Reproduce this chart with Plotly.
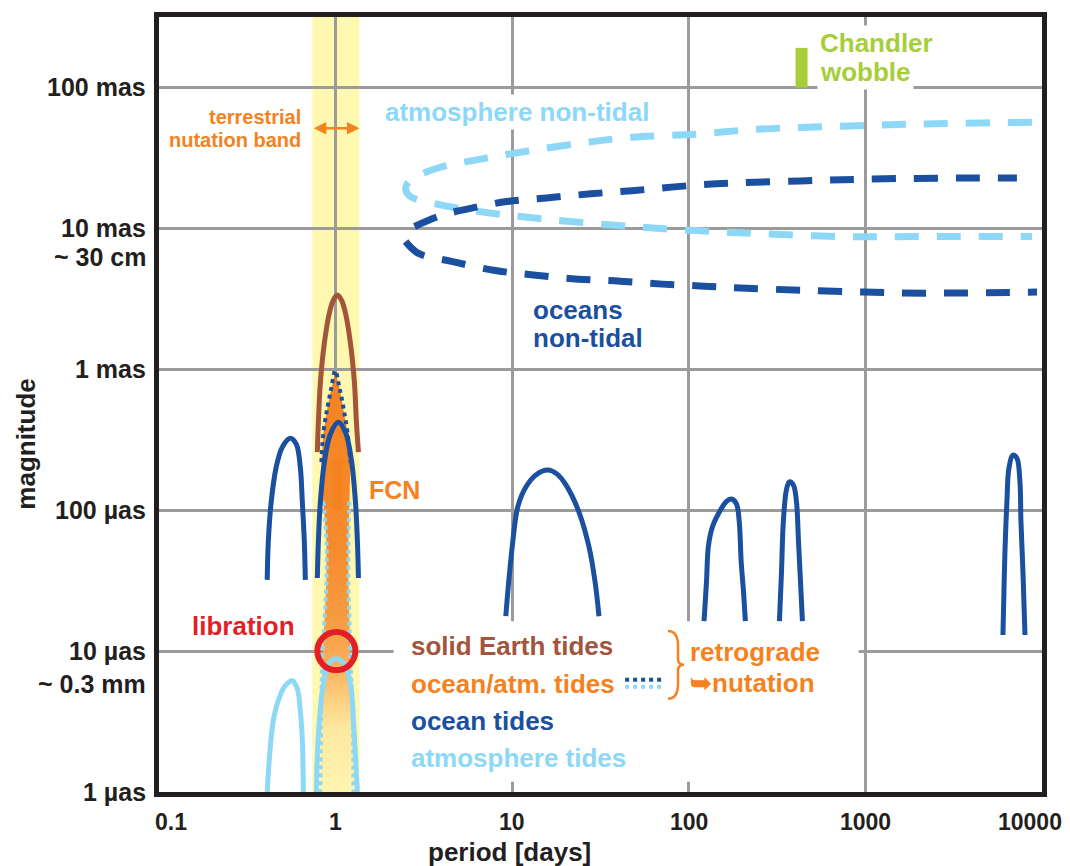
import numpy as np
import plotly.graph_objects as go

# ---------------- data (period in days, magnitude in µas) ----------------
x_tick_vals = [0.1, 1, 10, 100, 1000, 10000]
x_tick_text = ["0.1", "1", "10", "100", "1000", "10000"]
y_tick_vals = [1, 10, 100, 1e3, 1e4, 1e5]
y_tick_text = ["1 µas", "10 µas", "100 µas", "1 mas", "10 mas", "100 mas"]

band_period = [0.738, 1.365]          # terrestrial nutation band
band_arrow_mag = 51400

# solid Earth tides
solid_P = [0.788, 0.799, 0.820, 0.864, 0.922, 0.972, 1.024, 1.079, 1.137, 1.213, 1.278, 1.312, 1.347]
solid_M = [258, 420, 805, 1540, 2510, 3100, 3360, 3100, 2510, 1540, 805, 420, 258]

# ocean/atm. tides (retrograde nutation) envelope
oa_P = [0.995, 0.947, 0.899, 0.853, 0.831, 0.853, 0.887, 0.887, 0.864, 0.841, 0.831, 0.820,
        1.262, 1.245, 1.213, 1.197, 1.182, 1.182, 1.197, 1.213, 1.167, 1.107, 1.051, 0.995]
oa_M = [977, 742, 536, 357, 219, 115, 60, 31.3, 16.3, 8.53, 4.46, 1.0,
        1.0, 4.46, 8.53, 16.3, 31.3, 60, 115, 219, 357, 536, 742, 977]
oa_top_P = [0.831, 0.853, 0.899, 0.947, 0.995, 1.051, 1.107, 1.167, 1.213]
oa_top_M = [219, 357, 536, 742, 977, 742, 536, 357, 219]
oa_left_P = [0.853, 0.887, 0.887, 0.864, 0.841, 0.831, 0.820]
oa_right_P = [1.197, 1.182, 1.182, 1.197, 1.213, 1.245, 1.262]
oa_side_M = [115, 60, 31.3, 16.3, 8.53, 4.46, 1.0]

# ocean tides
ocean_tides = [
    ([0.410, 0.416, 0.432, 0.461, 0.499, 0.554, 0.599, 0.631, 0.648, 0.665, 0.674],
     [32, 60, 115, 202, 280, 324, 294, 202, 115, 60, 32]),
    ([0.788, 0.799, 0.820, 0.864, 0.934, 1.037, 1.137, 1.229, 1.295, 1.329, 1.347],
     [33, 60, 115, 219, 346, 420, 357, 227, 115, 60, 33]),
    ([9.20, 9.56, 10.08, 10.76, 11.95, 13.61, 15.92, 17.91, 20.15, 23.88, 27.21, 29.43, 31.01],
     [17.7, 31.3, 60, 106, 146, 178, 193, 181, 151, 97, 55, 31.3, 17.7]),
    ([122, 126, 129, 136, 149, 163, 174, 186, 193, 198, 204, 209],
     [16.3, 31.3, 55, 76, 97, 115, 120, 111, 83, 43, 26.6, 16.3]),
    ([326, 335, 343, 357, 371, 391, 407, 418, 429, 440],
     [16.3, 36.8, 83, 139, 159, 151, 115, 60, 31.3, 16.3]),
    ([6010, 6090, 6170, 6330, 6500, 6850, 7210, 7500, 7600, 7800, 8010],
     [13, 26.6, 51, 115, 199, 246, 234, 159, 83, 36.8, 13]),
]

# atmosphere tides
atm_tides = [
    ([0.410, 0.421, 0.444, 0.480, 0.519, 0.569, 0.607, 0.631, 0.648, 0.657],
     [1.0, 1.68, 3.22, 4.68, 5.68, 6.16, 5.41, 3.79, 2.33, 1.0]),
    ([0.778, 0.788, 0.809, 0.841, 0.887, 0.934, 1.010, 1.093, 1.167, 1.229, 1.262, 1.295, 1.329],
     [1.0, 1.82, 3.22, 5.24, 7.25, 8.39, 8.81, 8.39, 7.25, 5.24, 3.22, 1.82, 1.0]),
]

# non-tidal atmosphere (closed loop)
atm_nt_P = [8770, 1690, 742, 248, 109, 47.7, 24.8, 12.3, 6.72, 3.64, 2.62, 2.49,
            2.62, 3.64, 6.72, 11.5, 21.2, 47.7, 109, 248, 742, 2230, 8770]
atm_nt_M = [56700, 54800, 53100, 50600, 46600, 44400, 40300, 35400, 31100, 26400, 21700, 19100,
            17000, 15000, 13100, 12100, 11200, 10300, 9650, 9190, 8750, 8750, 8750]

# non-tidal oceans (two branches)
oce_nt_up_P = [2.80, 3.93, 5.38, 9.32, 16.1, 27.9, 47.7, 82.6, 143, 429, 1285, 7210]
oce_nt_up_M = [10300, 12300, 13600, 15500, 16500, 17600, 18500, 19700, 20700, 21700, 22500, 22800]
oce_nt_lo_P = [2.49, 2.95, 4.54, 7.86, 13.6, 23.6, 40.8, 70.6, 122, 212, 429, 977, 2230, 9370]
oce_nt_lo_M = [8070, 6640, 5830, 5040, 4650, 4360, 4220, 4020, 3890, 3760, 3640, 3530, 3470, 3530]

# single features
fcn_P, fcn_M = [1.024, 1.024], [100, 230]
chandler_P, chandler_M = [435, 435], [1e5, 1.91e5]
libration_P, libration_M = [1.01], [10]

# legend box and legend samples
legend_box_P = [2.13, 915]
legend_box_M = [1.18, 16.3]
sample_P = [43.6, 71.6]
sample_dark_M = [6.26, 6.26]
sample_light_M = [5.59, 5.59]

# ---------------- styles ----------------
DARK = "#1b4f9f"
LIGHT = "#8dd8f7"
BROWN = "#a3553b"
ORANGE = "#f58220"
RED = "#e41e26"
LIME = "#a6ce39"
YELLOW = "#fff8b0"
INK = "#231f20"
GRID = "#9b9b9b"
FONT = "Liberation Sans, Arial, sans-serif"

fig = go.Figure()

def line(P, M, color, width, dash=None, shape="spline"):
    fig.add_trace(go.Scatter(x=P, y=M, mode="lines", hoverinfo="skip", showlegend=False,
                             line=dict(color=color, width=width, dash=dash, shape=shape)))

# orange retrograde nutation envelope with gradient
fig.add_trace(go.Scatter(
    x=oa_P, y=oa_M, mode="lines", fill="toself", hoverinfo="skip", showlegend=False,
    line=dict(width=0, color="rgba(0,0,0,0)"),
    fillcolor="#f8a04a",
    fillgradient=dict(type="vertical", colorscale=[
        [0.0, "#fff5b0"], [0.15, "#fde8a0"], [0.22, "#fcd080"], [0.30, "#f9ae5a"],
        [0.42, "#f79a3e"], [0.60, "#f68a2c"], [1.0, ORANGE]]),
))
line(oa_top_P, oa_top_M, DARK, 4, "dot")
line(oa_left_P, oa_side_M, LIGHT, 4, "dot")
line(oa_right_P, oa_side_M, LIGHT, 4, "dot")

# non-tidal
line(atm_nt_P, atm_nt_M, LIGHT, 7, "24px,18px")
line(oce_nt_up_P, oce_nt_up_M, DARK, 7, "24px,18px")
line(oce_nt_lo_P, oce_nt_lo_M, DARK, 7, "24px,18px")

# tides
line(solid_P, solid_M, BROWN, 5)
for P, M in ocean_tides:
    line(P, M, DARK, 5)
for P, M in atm_tides:
    line(P, M, LIGHT, 5)

# bars
line(fcn_P, fcn_M, ORANGE, 10, shape="linear")
line(chandler_P, chandler_M, LIME, 12, shape="linear")

# legend samples
line(sample_P, sample_dark_M, DARK, 4, "dot", "linear")
line(sample_P, sample_light_M, LIGHT, 4, "dot", "linear")

# libration ring
fig.add_trace(go.Scatter(x=libration_P, y=libration_M, mode="markers", hoverinfo="skip",
                         showlegend=False,
                         marker=dict(symbol="circle-open", size=38, color=RED,
                                     line=dict(width=6, color=RED))))

# ---------------- shapes ----------------
shapes = [
    dict(type="rect", xref="x", yref="paper", x0=band_period[0], x1=band_period[1], y0=0, y1=1,
         fillcolor=YELLOW, line=dict(width=0), layer="below"),
    dict(type="rect", xref="x", yref="y", x0=legend_box_P[0], x1=legend_box_P[1],
         y0=legend_box_M[0], y1=legend_box_M[1], fillcolor="white", line=dict(width=0),
         layer="between"),
]
# brace (paper coordinates, from page pixels)
def px(xp):
    return (xp - 159) / 883
def py(yp):
    return (792 - yp) / 780
brace = (f"M {px(668)},{py(630)} Q {px(678)},{py(630)} {px(678)},{py(645)} "
         f"L {px(678)},{py(658)} Q {px(678)},{py(664)} {px(684)},{py(664)} "
         f"Q {px(678)},{py(664)} {px(678)},{py(670)} L {px(678)},{py(683)} "
         f"Q {px(678)},{py(698)} {px(668)},{py(698)}")
shapes.append(dict(type="path", xref="paper", yref="paper", path=brace,
                   line=dict(color=ORANGE, width=2.5), layer="above"))

# ---------------- annotations ----------------
ann = []
def text(t, xl, yl, color, size=26, xanchor="left", bg=None, xref="x", yref="y",
         angle=0, xshift=0):
    d = dict(text=f"<b>{t}</b>", x=xl, y=yl, xref=xref, yref=yref, xanchor=xanchor,
             yanchor="middle", showarrow=False, font=dict(family=FONT, size=size, color=color),
             textangle=angle, xshift=xshift)
    if bg:
        d.update(bgcolor=bg, borderpad=2)
    ann.append(d)

# axis tick labels
for v, t in zip(y_tick_vals, y_tick_text):
    text(t, -0.0125, np.log10(v), INK, 25, "right", xref="paper")
text("~ 30 cm", -0.0125, 3.794, INK, 25, "right", xref="paper")
text("~ 0.3 mm", -0.0125, 0.769, INK, 25, "right", xref="paper")
shifts = [12, 0, 0, 0, 0, -12]
for v, t, s in zip(x_tick_vals, x_tick_text, shifts):
    text(t, np.log10(v), -0.0385, INK, 23, "center", yref="paper", xshift=s)
text("period [days]", 0.3975, -0.0770, INK, 26, "center", xref="paper", yref="paper")
text("magnitude", -0.151, 0.449, INK, 26, "center", xref="paper", yref="paper", angle=-90)

# labels (positions in log10 axis units)
text("terrestrial", -0.183, 4.788, ORANGE, 20, "right")
text("nutation band", -0.183, 4.626, ORANGE, 20, "right")
text("atmosphere non-tidal", 0.262, 4.824, LIGHT, 26, bg="white")
text("Chandler", 2.728, 5.317, LIME, 26, bg="white")
text("wobble", 2.728, 5.113, LIME, 26, bg="white")
text("oceans", 1.106, 3.420, DARK, 26)
text("non-tidal", 1.106, 3.223, DARK, 26)
text("FCN", 0.180, 2.144, ORANGE, 25)
text("libration", -0.824, 1.178, RED, 26)
text("solid Earth tides", 0.413, 1.037, BROWN, 26)
text("ocean/atm. tides", 0.413, 0.769, ORANGE, 26)
text("ocean tides", 0.413, 0.501, DARK, 26)
text("atmosphere tides", 0.413, 0.240, LIGHT, 26)
text("retrograde", 1.997, 0.994, ORANGE, 26)
text("➥nutation", 1.997, 0.776, ORANGE, 26)

# double arrow for the nutation band
ann.append(dict(text="", x=np.log10(band_period[1]), y=np.log10(band_arrow_mag),
                ax=np.log10(band_period[0]), ay=np.log10(band_arrow_mag),
                xref="x", yref="y", axref="x", ayref="y", showarrow=True,
                arrowside="end+start", arrowhead=2, startarrowhead=2, arrowsize=1,
                startarrowsize=1, arrowwidth=2.5, arrowcolor=ORANGE, standoff=0, startstandoff=0))

# page body has an 8px margin: the figure is sized so the plot lands where the reference has it
fig.update_layout(
    width=1062, height=858, margin=dict(l=151, r=28, t=4, b=74),
    paper_bgcolor="white", plot_bgcolor="white",
    font=dict(family=FONT, color=INK),
    shapes=shapes, annotations=ann, showlegend=False,
)
fig.update_xaxes(type="log", range=[-1, 4], tickvals=x_tick_vals, showticklabels=False,
                 showgrid=True, gridcolor=GRID, gridwidth=3, showline=True, mirror=True,
                 linecolor=INK, linewidth=5, ticks="", zeroline=False)
fig.update_yaxes(type="log", range=[0, 5.5], tickvals=y_tick_vals, showticklabels=False,
                 showgrid=True, gridcolor=GRID, gridwidth=3, showline=True, mirror=True,
                 linecolor=INK, linewidth=5, ticks="", zeroline=False)

fig.write_html("out.html")
